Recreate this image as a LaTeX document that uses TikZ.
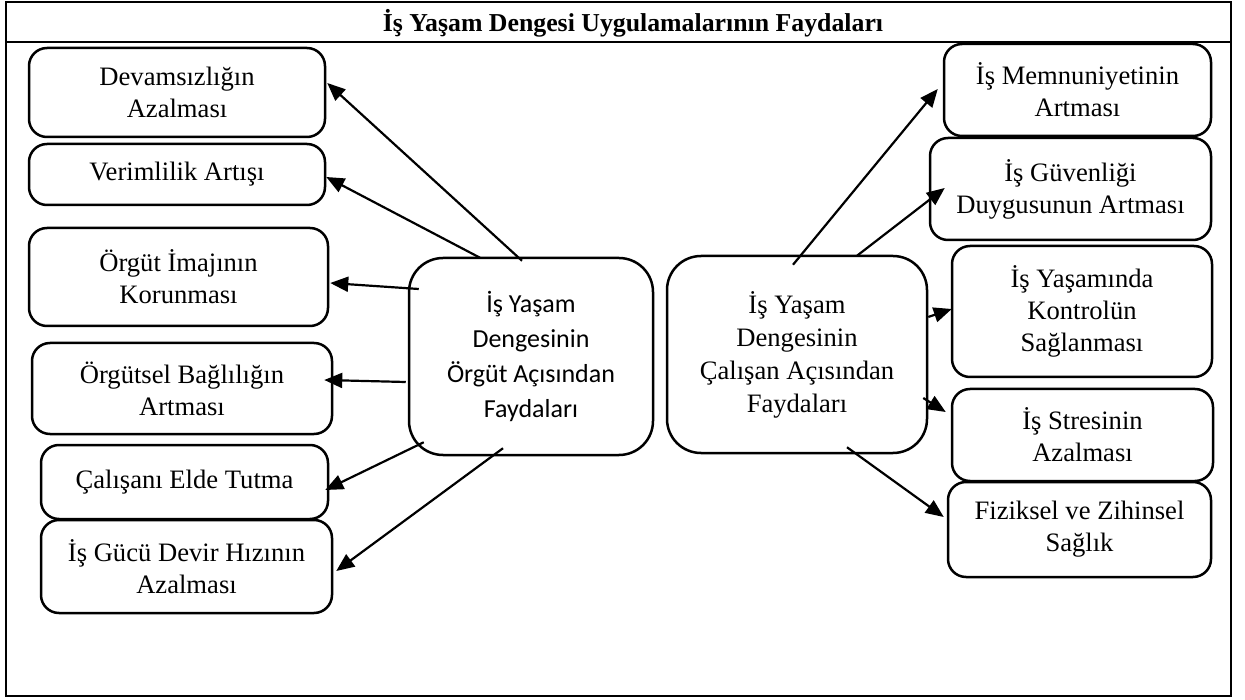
\documentclass[tikz,border=0pt]{standalone}
\usepackage{fontspec}
\setmainfont{Liberation Serif}
\newfontfamily\carlito{Carlito}
\usetikzlibrary{arrows.meta}
\tikzset{
  box/.style={draw, line width=2.5pt, rounded corners=18pt, align=center,
    inner sep=0pt, font=\fontsize{26.6}{32}\selectfont},
  bigbox/.style={box, rounded corners=34pt},
  arr/.style={line width=2.2pt, -{Triangle[length=18pt,width=15pt]}},
  ttl/.style={font=\bfseries\fontsize{25.8}{30}\selectfont, inner sep=0pt}
}
\begin{document}
\begin{tikzpicture}[x=1pt,y=-1pt]
\useasboundingbox (0,0) rectangle (1245,700);
\draw[line width=2.4pt] (6,2) rectangle (1231,696);
\draw[line width=2.4pt] (6,42) -- (1231,42);
\node[ttl] (title) at (633,23) {İş Yaşam Dengesi Uygulamalarının Faydaları};
% left boxes
\node[box, minimum width=296pt, minimum height=89pt] (l1) at (177,92.5) {Devamsızlığın\\Azalması};
\node[box, minimum width=296pt, minimum height=61pt] (l2) at (177,174.5) {Verimlilik Artışı};
\node[box, minimum width=299pt, minimum height=98pt] (l3) at (178.5,277) {Örgüt İmajının\\Korunması};
\node[box, minimum width=300pt, minimum height=91pt] (l4) at (182,388.5) {Örgütsel Bağlılığın\\Artması};
\node[box, minimum width=287pt, minimum height=74pt] (l5) at (184.5,482) {Çalışanı Elde Tutma};
\node[box, minimum width=291pt, minimum height=93pt] (l6) at (186.5,566.5) {İş Gücü Devir Hızının\\Azalması};
% centre boxes
\node[bigbox, minimum width=244pt, minimum height=197pt, font=\carlito\fontsize{26}{35}\selectfont] (cl) at (531,356.5) {İş Yaşam\\Dengesinin\\Örgüt Açısından\\Faydaları};
\node[bigbox, minimum width=260pt, minimum height=197pt, font=\fontsize{26.6}{33}\selectfont] (cr) at (797,354.5) {İş Yaşam\\Dengesinin\\Çalışan Açısından\\Faydaları};
% right boxes
\node[box, minimum width=267pt, minimum height=92pt] (r1) at (1077.5,90) {İş Memnuniyetinin\\Artması};
\node[box, minimum width=281pt, minimum height=102pt] (r2) at (1070.5,189) {İş Güvenliği\\Duygusunun Artması};
\node[box, minimum width=260pt, minimum height=131pt] (r3) at (1082,311.5) {İş Yaşamında\\Kontrolün\\Sağlanması};
\node[box, minimum width=261pt, minimum height=92pt] (r4) at (1082.5,435) {İş Stresinin\\Azalması};
\node[box, minimum width=263pt, minimum height=95pt] (r5) at (1079.5,529.5) {Fiziksel ve Zihinsel\\Sağlık};
% left arrows
\draw[arr] ([xshift=-9pt,yshift=-4pt]cl.north) -- ([xshift=1pt,yshift=9.5pt]l1.east);
\draw[arr] ([xshift=-51pt,yshift=-1pt]cl.north) -- ([xshift=0pt,yshift=-2.5pt]l2.east);
\draw[arr] ([xshift=11pt,yshift=67.5pt]cl.west) -- ([xshift=1pt,yshift=-6pt]l3.east);
\draw[arr] ([xshift=-2pt,yshift=-25.5pt]cl.west) -- ([xshift=-9pt,yshift=8.5pt]l4.east);
\draw[arr] ([xshift=16pt,yshift=14pt]cl.south west) -- ([xshift=-4pt,yshift=-8pt]l5.east);
\draw[arr] ([xshift=-28pt,yshift=8pt]cl.south) -- ([xshift=3pt,yshift=-4.5pt]l6.east);
% right arrows
\draw[arr] ([xshift=-4pt,yshift=-10pt]cr.north) -- ([xshift=-5pt,yshift=1pt]r1.west);
\draw[arr] ([xshift=60pt,yshift=-1pt]cr.north) -- ([xshift=16pt,yshift=1pt]r2.west);
\draw[arr] ([yshift=37.5pt]cr.east) -- ([xshift=1pt,yshift=2.5pt]r3.west);
\draw[arr] ([xshift=-5pt,yshift=-43.5pt]cr.east) -- ([xshift=-5pt,yshift=23pt]r4.west);
\draw[arr] ([xshift=50pt,yshift=7pt]cr.south) -- ([xshift=-3pt,yshift=12.5pt]r5.west);
\end{tikzpicture}
\end{document}
